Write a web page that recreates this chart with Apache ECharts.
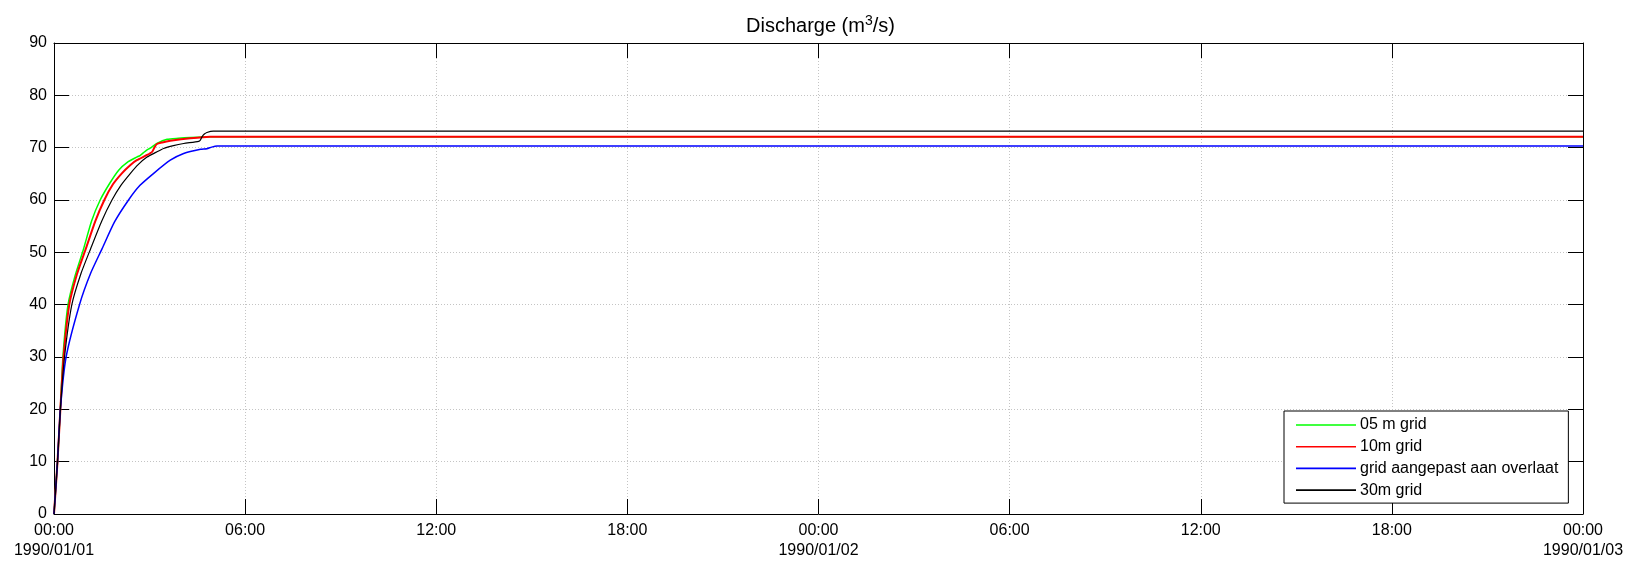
<!DOCTYPE html>
<html>
<head>
<meta charset="utf-8">
<script src="https://cdn.jsdelivr.net/npm/echarts@6/dist/echarts.min.js"></script>
<style>
  html, body { margin: 0; padding: 0; background: #fff; }
  #chart { width: 1642px; height: 563px; }
</style>
</head>
<body>
<div id="chart"></div>
<script>
// Time in hours since 1990/01/01 00:00, discharge in m3/s
var tGrid05 = [0, 0.11, 0.2, 0.28, 0.44, 0.66, 0.93, 1.18, 1.45, 1.75, 2.03, 2.3, 2.6, 2.7, 2.8, 2.9, 3.02, 3.23, 3.55, 3.9, 4.28, 4.9, 48];
var qGrid05 = [0, 10, 20, 30, 40, 45.5, 50.7, 56, 60, 63.2, 65.7, 67.2, 68.2, 68.5, 69.0, 69.5, 69.9, 70.8, 71.6, 71.8, 71.95, 72.1, 72.1];

var tGrid10 = [0, 0.11, 0.2, 0.3, 0.48, 0.72, 1.0, 1.3, 1.58, 1.85, 2.13, 2.4, 2.6, 2.92, 3.08, 3.15, 3.23, 3.4, 3.65, 4.28, 4.9, 48];
var qGrid10 = [0, 10, 20, 30, 40, 45.8, 50.7, 56, 60, 63, 65.1, 66.7, 67.6, 68.6, 69.2, 70.0, 70.7, 71.0, 71.3, 71.8, 72.1, 72.1];

var tOverlaat = [0, 0.11, 0.2, 0.38, 0.8, 1.15, 1.51, 1.9, 2.34, 2.7, 3.13, 3.65, 4.07, 4.6, 4.8, 4.95, 5.12, 5.5, 48];
var qOverlaat = [0, 10, 20, 30, 40, 46, 50.7, 55.8, 60, 62.8, 65.1, 67.6, 68.9, 69.7, 69.8, 70.1, 70.3, 70.3, 70.3];

var tGrid30 = [0, 0.11, 0.2, 0.33, 0.56, 0.85, 1.15, 1.5, 1.82, 2.1, 2.4, 2.65, 2.92, 3.2, 3.44, 3.75, 4.07, 4.54, 4.6, 4.65, 4.72, 4.8, 5.0, 48];
var qGrid30 = [0, 10, 20, 30, 40, 46, 50.7, 56, 60, 62.8, 65.1, 66.8, 68.2, 69.1, 69.85, 70.4, 70.8, 71.2, 71.5, 72.1, 72.6, 72.9, 73.15, 73.15];

var seriesNames = ['05 m grid', '10m grid', 'grid aangepast aan overlaat', '30m grid'];
var seriesColors = ['#00ff00', '#ff0000', '#0000ff', '#000000'];
var dayLabels = ['1990/01/01', '1990/01/02', '1990/01/03'];

function pairs(t, q) {
  return t.map(function (x, i) { return [x, q[i]]; });
}

function timeLabel(h) {
  var hh = h % 24;
  var s = (hh < 10 ? '0' : '') + hh + ':00';
  if (hh === 0) s += '\n' + dayLabels[h / 24];
  return s;
}

var FONT = 'Liberation Sans, Arial, sans-serif';
var dotted = { color: '#c4c4c4', type: [1, 2], width: 1 };

var chart = echarts.init(document.getElementById('chart'), null, { renderer: 'canvas' });

var lineWidths = [1.5, 2, 1.5, 1.2];
var allData = [pairs(tGrid05, qGrid05), pairs(tGrid10, qGrid10), pairs(tOverlaat, qOverlaat), pairs(tGrid30, qGrid30)];

chart.setOption({
  animation: false,
  backgroundColor: '#ffffff',
  title: {
    text: '{a|Discharge (m}{b|3}{a|/s)}',
    left: 741,
    top: 9,
    textStyle: {
      fontWeight: 'normal',
      rich: {
        a: { fontFamily: FONT, fontSize: 20, fontWeight: 'normal', color: '#000', lineHeight: 25 },
        b: { fontFamily: FONT, fontSize: 14, fontWeight: 'normal', color: '#000', lineHeight: 12, verticalAlign: 'top' }
      }
    }
  },
  legend: {
    orient: 'vertical',
    left: 1284,
    top: 411,
    padding: [6, 10, 5, 12],
    itemWidth: 60,
    itemHeight: 16,
    itemGap: 5.7,
    icon: 'path://M0,0 L60,0 L60,1.6 L0,1.6 Z',
    backgroundColor: '#fff',
    borderColor: '#000',
    borderWidth: 1,
    borderRadius: 0,
    textStyle: { fontFamily: FONT, fontSize: 16, color: '#000', padding: [0, 0, 0, -1] },
    data: seriesNames
  },
  grid: { left: 54, right: 59, top: 43, bottom: 49, containLabel: false },
  xAxis: [{
    type: 'value', min: 0, max: 48, interval: 6, position: 'bottom',
    axisLine: { show: true, lineStyle: { color: '#000', width: 1 } },
    axisTick: { show: true, inside: true, length: 15, lineStyle: { color: '#000' } },
    axisLabel: { fontFamily: FONT, fontSize: 16, color: '#000', margin: 7, lineHeight: 20, formatter: timeLabel },
    splitLine: { show: true, lineStyle: dotted }
  }, {
    type: 'value', min: 0, max: 48, interval: 6, position: 'top',
    axisLine: { show: true, onZero: false, lineStyle: { color: '#000', width: 1 } },
    axisTick: { show: true, inside: true, length: 15, lineStyle: { color: '#000' } },
    axisLabel: { show: false },
    splitLine: { show: false }
  }],
  yAxis: [{
    type: 'value', min: 0, max: 90, interval: 10, position: 'left',
    axisLine: { show: true, lineStyle: { color: '#000', width: 1 } },
    axisTick: { show: true, inside: true, length: 15, lineStyle: { color: '#000' } },
    axisLabel: { fontFamily: FONT, fontSize: 16, color: '#000', margin: 7 },
    splitLine: { show: true, lineStyle: dotted }
  }, {
    type: 'value', min: 0, max: 90, interval: 10, position: 'right',
    axisLine: { show: true, onZero: false, lineStyle: { color: '#000', width: 1 } },
    axisTick: { show: true, inside: true, length: 15, lineStyle: { color: '#000' } },
    axisLabel: { show: false },
    splitLine: { show: false }
  }],
  series: seriesNames.map(function (name, i) {
    return {
      name: name,
      type: 'line',
      xAxisIndex: 0,
      yAxisIndex: 0,
      symbol: 'none',
      smooth: 0.2,
      color: seriesColors[i],
      lineStyle: { color: seriesColors[i], width: lineWidths[i] },
      data: allData[i],
      z: 2 + i
    };
  })
});
</script>
</body>
</html>
